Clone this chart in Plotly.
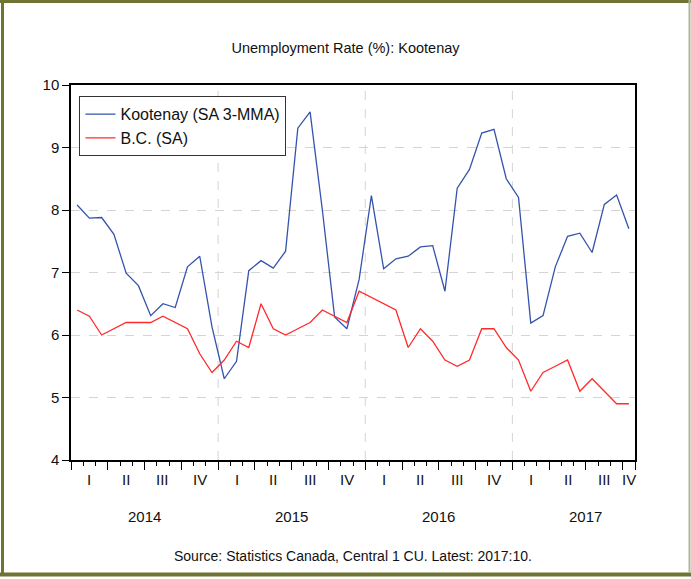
import plotly.graph_objects as go

# Monthly values, Jan 2014 .. Oct 2017 (46 months)
months = list(range(46))
kootenay = [
    8.08, 7.87, 7.88, 7.61, 6.99, 6.79, 6.31, 6.50, 6.44, 7.09, 7.26, 6.13,
    5.30, 5.58, 7.03, 7.19, 7.07, 7.34, 9.31, 9.57, 8.00, 6.29, 6.10, 6.89,
    8.23, 7.06, 7.22, 7.26, 7.41, 7.43, 6.70, 8.35, 8.65, 9.23, 9.29, 8.50,
    8.20, 6.19, 6.31, 7.09, 7.58, 7.63, 7.32, 8.09, 8.24, 7.70,
]
bc = [
    6.4, 6.3, 6.0, 6.1, 6.2, 6.2, 6.2, 6.3, 6.2, 6.1, 5.7, 5.4,
    5.6, 5.9, 5.8, 6.5, 6.1, 6.0, 6.1, 6.2, 6.4, 6.3, 6.2, 6.7,
    6.6, 6.5, 6.4, 5.8, 6.1, 5.9, 5.6, 5.5, 5.6, 6.1, 6.1, 5.8,
    5.6, 5.1, 5.4, 5.5, 5.6, 5.1, 5.3, 5.1, 4.9, 4.9,
]
quarter_labels = ["I", "II", "III", "IV"] * 4
years = ["2014", "2015", "2016", "2017"]

FONT = "Liberation Sans, Arial, sans-serif"
OLIVE = "#6f7433"
GRID = "#d4d4d4"
W, H = 691, 579
ML, MR, MT, MB = 71, 56, 85, 119

fig = go.Figure()
fig.add_trace(go.Scatter(x=months, y=kootenay, mode="lines",
                         line=dict(color="#3453ad", width=1.3),
                         name="Kootenay (SA 3-MMA)"))
fig.add_trace(go.Scatter(x=months, y=bc, mode="lines",
                         line=dict(color="#ff2a2a", width=1.3),
                         name="B.C. (SA)"))

# year separators (dashed grid)
for i in range(1, len(years)):
    fig.add_vline(x=i * 12 - 0.5, line=dict(color=GRID, width=1, dash="dash"),
                  layer="below")

# quarter labels and year labels below the axis
for q, lab in enumerate(quarter_labels):
    xc = min(q * 3 + 1, 45)
    fig.add_annotation(x=xc, y=-0.025, xref="x", yref="paper", text=lab,
                       showarrow=False, yanchor="top",
                       font=dict(family=FONT, size=15, color="#111"))
for i, yr in enumerate(years):
    fig.add_annotation(x=i * 12 + 5.5, y=-0.122, xref="x", yref="paper", text=yr,
                       showarrow=False, yanchor="top",
                       font=dict(family=FONT, size=15, color="#111"))

fig.add_annotation(x=0.5, y=-0.228, xref="paper", yref="paper",
                   text="Source: Statistics Canada, Central 1 CU. Latest: 2017:10.",
                   showarrow=False, yanchor="top",
                   font=dict(family=FONT, size=14, color="#111"))


# olive frame around the whole picture (pixel -> paper coords)
def fx(p):
    return (p - ML) / (W - ML - MR)


def fy(p):
    return (H - MB - p) / (H - MT - MB)


fig.add_shape(type="line", xref="paper", yref="paper", x0=fx(0), x1=fx(W),
              y0=fy(1.5), y1=fy(1.5), line=dict(color=OLIVE, width=3))
fig.add_shape(type="line", xref="paper", yref="paper", x0=fx(2.5), x1=fx(2.5),
              y0=fy(0), y1=fy(576), line=dict(color=OLIVE, width=3))
fig.add_shape(type="line", xref="paper", yref="paper", x0=fx(0), x1=fx(W),
              y0=fy(574.5), y1=fy(574.5), line=dict(color=OLIVE, width=4))
fig.add_shape(type="line", xref="paper", yref="paper", x0=fx(689.5), x1=fx(689.5),
              y0=fy(0), y1=fy(573), line=dict(color="#b3b598", width=2))

fig.update_layout(
    width=W, height=H,
    margin=dict(l=ML, r=MR, t=MT, b=MB),
    paper_bgcolor="white", plot_bgcolor="white",
    title=dict(text="Unemployment Rate (%): Kootenay", x=0.5, xanchor="center",
               y=1 - 48 / H, yanchor="middle",
               font=dict(family=FONT, size=14.5, color="#111")),
    font=dict(family=FONT, size=15, color="#111"),
    showlegend=True,
    legend=dict(x=0.015, y=0.97, xanchor="left", yanchor="top",
                bgcolor="white", bordercolor="#333", borderwidth=1,
                font=dict(family=FONT, size=16, color="#111"),
                tracegroupgap=0, itemwidth=30),
    xaxis=dict(range=[-0.5, 45.5], showgrid=False, zeroline=False,
               tickmode="array", tickvals=[q * 3 - 0.5 for q in range(16)] + [45.5],
               ticktext=[""] * 17, ticks="outside", ticklen=8, tickcolor="black",
               tickwidth=1,
               minor=dict(tickmode="linear", tick0=-0.5, dtick=1, ticks="outside",
                          ticklen=4, tickcolor="black", showgrid=False),
               showline=True, linecolor="black", linewidth=1.5, mirror=True),
    yaxis=dict(range=[4, 10], dtick=1, showgrid=True, gridcolor=GRID,
               griddash="dash", zeroline=False, ticks="outside", ticklen=7,
               tickcolor="black", showline=True, linecolor="black", linewidth=1.5,
               mirror=True, tickfont=dict(family=FONT, size=15, color="#111")),
)

# drop the default 8px body margin so the figure sits at the page origin
fig.write_html("out.html", config={"displayModeBar": False},
               post_script="document.body.style.margin='0px';")
